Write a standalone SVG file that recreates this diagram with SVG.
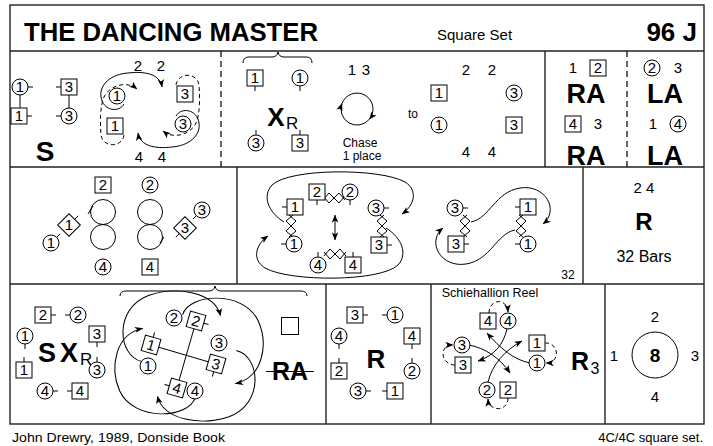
<svg xmlns="http://www.w3.org/2000/svg" width="713" height="446" viewBox="0 0 713 446">
<style>
text{font-family:"Liberation Sans",Arial,Helvetica,sans-serif;fill:#000}
.n{font-size:15px;text-anchor:middle}
.m{text-anchor:middle}
.c{fill:#fff;stroke:#000;stroke-width:1}
.bx{fill:#fff;stroke:#000;stroke-width:1}
.l{fill:none;stroke:#000;stroke-width:1}
.d{fill:none;stroke:#000;stroke-width:1;stroke-dasharray:4 3}
.a{marker-end:url(#ah)}
.a2{marker-end:url(#ah);marker-start:url(#ah)}
.bd{font-weight:bold;text-anchor:middle}
.fr{fill:none;stroke:#222;stroke-width:1.4}
.fd{fill:none;stroke:#222;stroke-width:1.4;stroke-dasharray:6 4}
</style>
<defs>
<marker id="ah" viewBox="0 0 10 8" refX="9.5" refY="4" markerWidth="8" markerHeight="6.4" orient="auto-start-reverse" markerUnits="userSpaceOnUse"><path d="M0,0 L10,4 L0,8 L2.5,4 z" fill="#000"/></marker>
<path id="zz" class="l" d="M-2,-11 L5,-5 L-5,5 L2,11 M2,-11 L-5,-5 L5,5 L-2,11"/>
<path id="arcQ" class="l a" d="M6,45 C0,68 -52,72 -66,38 C-76,12 -70,-24 -44,-30"/>
</defs>
<rect width="713" height="446" fill="#fff"/>

<g id="frame">
<rect class="fr" x="10" y="5" width="694" height="419"/>
<path class="fr" d="M10,51 H704 M10,167 H704 M10,284 H704"/>
<path class="fd" d="M221,51 V167 M627,51 V167"/>
<path class="fr" d="M545,51 V167 M237,167 V284 M583,167 V284 M326,284 V424 M431,284 V424 M605,284 V424"/>
</g>

<g id="title">
<text x="24" y="41" font-size="26" font-weight="bold" textLength="294" lengthAdjust="spacingAndGlyphs">THE DANCING MASTER</text>
<text x="437" y="40" font-size="15">Square Set</text>
<text x="697" y="41" font-size="26" font-weight="bold" text-anchor="end">96 J</text>
</g>

<g id="connectors">
<path class="l" d="M28,87 H33 M56,87 H61 M27,116 H32 M56,116 H61 M20,95 V108 M69,95 V108"/>
<path class="l" d="M255,86 V91 M300,86 V91 M256,130 V135 M300,130 V135"/>
<path class="l a" d="M124,104 C119,113 103,111 101,97 C99,84 112,74 128,73 C145,71 160,74 162,87"/>
<path class="d a" d="M124,135 C122,148 103,148 101,135 C100,122 100,106 104,97 C109,86 126,80 137,89"/>
<g transform="rotate(180 150 110)">
<path class="l a" d="M124,104 C119,113 103,111 101,97 C99,84 112,74 128,73 C145,71 160,74 162,87"/>
<path class="d a" d="M124,135 C122,148 103,148 101,135 C100,122 100,106 104,97 C109,86 126,80 137,89"/>
</g>
<path class="l" d="M243,63 Q243,57 249,57 L272,57 Q277,57 278,52 Q279,57 284,57 L306,57 Q312,57 312,63"/>
<path class="l a" d="M369.3,119.3 A16,16 0 0 1 342,103.5"/>
<path class="l a" d="M342,103.5 A16,16 0 1 1 369.3,119.3"/>
<circle class="l" cx="103" cy="212" r="12.5"/><circle class="l" cx="103" cy="237" r="12.5"/>
<circle class="l" cx="150" cy="212" r="12.5"/><circle class="l" cx="150" cy="237" r="12.5"/>
<path class="l" d="M93,206 L88,214 M160,243 L164,237"/>
<path class="l" d="M74.7,219.3 L78.2,215.8 M56.7,237.3 L60.2,233.8 M179.3,233.7 L175.8,237.2 M196.3,215.7 L192.8,219.2"/>
<path class="l" d="M317,200 V205 M350,200 V205 M282,207 H287 M281,244 H286 M384,208 H389 M387,245 H392 M318,252 V257 M353,252 V257"/>
<use href="#zz" transform="translate(334,198) rotate(90)"/>
<use href="#zz" transform="translate(291,226)"/>
<use href="#zz" transform="translate(382,226)"/>
<use href="#zz" transform="translate(335,254) rotate(90)"/>
<path class="l a" d="M284,222 C268,212 262,196 272,185 C290,168 380,168 405,182 C418,190 415,205 402,214"/>
<path class="l a" d="M284,222 C268,212 262,196 272,185 C290,168 380,168 405,182 C418,190 415,205 402,214" transform="rotate(180 335 225)"/>
<path class="l a2" d="M335,215 V240"/>
<path class="l" d="M463,208 H468 M464,244 H469 M515,207 H520 M515,244 H520"/>
<use href="#zz" transform="translate(465,226)"/>
<use href="#zz" transform="translate(521,226)"/>
<path class="l a" d="M471,222 C490,218 495,192 520,188 C545,184 560,210 543,224"/>
<path class="l a" d="M471,222 C490,218 495,192 520,188 C545,184 560,210 543,224" transform="rotate(180 493 226)"/>
<path class="l" d="M51,315 H56 M65,315 H70 M25,344 V349 M24,357 V362 M97,342 V347 M97,357 V362 M53,391 H58 M67,391 H72"/>
<path class="l" d="M120,296 Q120,291 126,291 L209,291 Q214,291 215,286 Q216,291 221,291 L301,291 Q307,291 307,296"/>
<path class="l" d="M158.7,347.2 L208.3,361.8 M194,328.5 L179,380.5"/>
<g transform="translate(189,356) scale(1.05,0.92)">
<use href="#arcQ"/>
<use href="#arcQ" transform="rotate(90)"/>
<use href="#arcQ" transform="rotate(180)"/>
<use href="#arcQ" transform="rotate(270)"/>
</g>
<path class="l" d="M363,315 H368 M382,315 H387 M339,344 V349 M339,358 V363 M412,344 V349 M412,358 V363 M366,391 H371 M382,391 H387"/>
<path class="d a" d="M489,313 C489,299 507,297 508,312"/>
<path class="d a" d="M545,343 C559,342 561,363 546,363"/>
<path class="d a" d="M508,398 C508,412 489,412 488,399"/>
<path class="d a" d="M455,365 C441,365 438,345 453,345"/>
<path class="l a" d="M507,329 C503,345 495,355 478,361"/>
<path class="l a" d="M469,345 C485,348 500,358 510,373"/>
<path class="l a" d="M530,363 C514,360 500,348 487,333"/>
<path class="l a" d="M488,382 C492,365 505,350 522,341"/>
</g>

<!-- ROW 1 LEFT -->
<g id="r1-c1"><circle class="c" cx="20" cy="87" r="8"/><text class="n" x="20" y="92.4">1</text></g>
<g id="r1-b3"><rect class="bx" x="61" y="79" width="16" height="16"/><text class="n" x="69" y="92.4">3</text></g>
<g id="r1-b1"><rect class="bx" x="11" y="108" width="16" height="16"/><text class="n" x="19" y="121.4">1</text></g>
<g id="r1-c3"><circle class="c" cx="69" cy="116" r="8"/><text class="n" x="69" y="121.4">3</text></g>
<text id="r1-S" class="bd" x="45" y="161" font-size="28">S</text>
<g id="r1s-c1"><circle class="c" cx="117" cy="96" r="8"/><text class="n" x="117" y="101.4">1</text></g>
<g id="r1s-b1"><rect class="bx" x="107" y="118" width="16" height="16"/><text class="n" x="115" y="131.4">1</text></g>
<g id="r1s-b3"><rect class="bx" x="177" y="86" width="16" height="16"/><text class="n" x="185" y="99.4">3</text></g>
<g id="r1s-c3"><circle class="c" cx="183" cy="124" r="8"/><text class="n" x="183" y="129.4">3</text></g>
<g id="r1s-nums" font-size="15"><text class="m" x="138" y="71">2</text><text class="m" x="161" y="71">2</text><text class="m" x="139" y="162">4</text><text class="m" x="162" y="162">4</text></g>

<!-- ROW 1 MIDDLE -->
<g id="r1m-b1"><rect class="bx" x="247" y="70" width="16" height="16"/><text class="n" x="255" y="83.4">1</text></g>
<g id="r1m-c1"><circle class="c" cx="300" cy="78" r="8"/><text class="n" x="300" y="83.4">1</text></g>
<g id="r1m-c3"><circle class="c" cx="256" cy="143" r="8"/><text class="n" x="256" y="148.4">3</text></g>
<g id="r1m-b3"><rect class="bx" x="292" y="135" width="16" height="16"/><text class="n" x="300" y="148.4">3</text></g>
<g id="r1m-XR"><text class="bd" x="276" y="126" font-size="26">X</text><text x="286" y="129" font-size="17">R</text></g>
<g id="r1m-13" font-size="15"><text class="m" x="352" y="75">1</text><text class="m" x="366" y="75">3</text></g>
<g id="r1m-chase"><text class="m" x="360" y="147" font-size="12">Chase</text><text class="m" x="362" y="160" font-size="12">1 place</text></g>
<text id="r1m-to" class="m" x="413" y="118" font-size="12">to</text>
<g id="r1m-nums" font-size="15"><text class="m" x="466" y="75">2</text><text class="m" x="492" y="75">2</text><text class="m" x="466" y="157">4</text><text class="m" x="492" y="157">4</text></g>
<g id="r1m-b1b"><rect class="bx" x="431" y="85" width="16" height="16"/><text class="n" x="439" y="98.4">1</text></g>
<g id="r1m-c3b"><circle class="c" cx="514" cy="93" r="8"/><text class="n" x="514" y="98.4">3</text></g>
<g id="r1m-c1b"><circle class="c" cx="439" cy="125" r="8"/><text class="n" x="439" y="130.4">1</text></g>
<g id="r1m-b3b"><rect class="bx" x="506" y="117" width="16" height="16"/><text class="n" x="514" y="130.4">3</text></g>

<!-- ROW 1 RIGHT -->
<text class="m" x="573" y="73" font-size="15">1</text>
<g id="r1r-b2"><rect class="bx" x="590" y="60" width="16" height="16"/><text class="n" x="598" y="73.4">2</text></g>
<text class="bd" x="586" y="103" font-size="27">RA</text>
<g id="r1r-b4"><rect class="bx" x="565" y="116" width="16" height="16"/><text class="n" x="573" y="129.4">4</text></g>
<text class="m" x="598" y="129" font-size="15">3</text>
<text class="bd" x="586" y="165" font-size="27">RA</text>
<g id="r1r-c2"><circle class="c" cx="652" cy="68" r="8"/><text class="n" x="652" y="73.4">2</text></g>
<text class="m" x="678" y="73" font-size="15">3</text>
<text class="bd" x="665" y="103" font-size="27">LA</text>
<text class="m" x="653" y="129" font-size="15">1</text>
<g id="r1r-c4"><circle class="c" cx="678" cy="124" r="8"/><text class="n" x="678" y="129.4">4</text></g>
<text class="bd" x="665" y="165" font-size="27">LA</text>

<!-- ROW 2 LEFT -->
<g id="r2-b2"><rect class="bx" x="95" y="177" width="16" height="16"/><text class="n" x="103" y="190.4">2</text></g>
<g id="r2-c2"><circle class="c" cx="150" cy="185" r="8"/><text class="n" x="150" y="190.4">2</text></g>
<g id="r2-d1"><rect class="bx" x="-8" y="-8" width="16" height="16" transform="translate(69,225) rotate(45)"/><text class="n" x="69" y="230.4">1</text></g>
<g id="r2-c1"><circle class="c" cx="51" cy="243" r="8"/><text class="n" x="51" y="248.4">1</text></g>
<g id="r2-d3"><rect class="bx" x="-8" y="-8" width="16" height="16" transform="translate(185,228) rotate(45)"/><text class="n" x="185" y="233.4">3</text></g>
<g id="r2-c3"><circle class="c" cx="202" cy="210" r="8"/><text class="n" x="202" y="215.4">3</text></g>
<g id="r2-c4"><circle class="c" cx="103" cy="267" r="8"/><text class="n" x="103" y="272.4">4</text></g>
<g id="r2-b4"><rect class="bx" x="142" y="259" width="16" height="16"/><text class="n" x="150" y="272.4">4</text></g>

<!-- ROW 2 MIDDLE -->
<g id="r2m-b2"><rect class="bx" x="309" y="184" width="16" height="16"/><text class="n" x="317" y="197.4">2</text></g>
<g id="r2m-c2"><circle class="c" cx="350" cy="192" r="8"/><text class="n" x="350" y="197.4">2</text></g>
<g id="r2m-b1"><rect class="bx" x="287" y="199" width="16" height="16"/><text class="n" x="295" y="212.4">1</text></g>
<g id="r2m-c1"><circle class="c" cx="294" cy="244" r="8"/><text class="n" x="294" y="249.4">1</text></g>
<g id="r2m-c3"><circle class="c" cx="376" cy="208" r="8"/><text class="n" x="376" y="213.4">3</text></g>
<g id="r2m-b3"><rect class="bx" x="371" y="237" width="16" height="16"/><text class="n" x="379" y="250.4">3</text></g>
<g id="r2m-c4"><circle class="c" cx="318" cy="265" r="8"/><text class="n" x="318" y="270.4">4</text></g>
<g id="r2m-b4"><rect class="bx" x="345" y="257" width="16" height="16"/><text class="n" x="353" y="270.4">4</text></g>
<g id="r2m-c3b"><circle class="c" cx="455" cy="208" r="8"/><text class="n" x="455" y="213.4">3</text></g>
<g id="r2m-b3b"><rect class="bx" x="448" y="236" width="16" height="16"/><text class="n" x="456" y="249.4">3</text></g>
<g id="r2m-b1b"><rect class="bx" x="520" y="199" width="16" height="16"/><text class="n" x="528" y="212.4">1</text></g>
<g id="r2m-c1b"><circle class="c" cx="528" cy="244" r="8"/><text class="n" x="528" y="249.4">1</text></g>
<text class="m" x="568" y="279" font-size="12">32</text>

<!-- ROW 2 RIGHT -->
<g id="r2r">
<text class="m" x="644" y="193" font-size="15">2 4</text>
<text class="bd" x="644" y="230" font-size="24">R</text>
<text class="m" x="644" y="262" font-size="16">32 Bars</text>
</g>

<!-- ROW 3 LEFT -->
<g id="r3-b2"><rect class="bx" x="35" y="307" width="16" height="16"/><text class="n" x="43" y="320.4">2</text></g>
<g id="r3-c2"><circle class="c" cx="78" cy="315" r="8"/><text class="n" x="78" y="320.4">2</text></g>
<g id="r3-c1"><circle class="c" cx="25" cy="336" r="8"/><text class="n" x="25" y="341.4">1</text></g>
<g id="r3-b1"><rect class="bx" x="16" y="362" width="16" height="16"/><text class="n" x="24" y="375.4">1</text></g>
<g id="r3-b3"><rect class="bx" x="89" y="326" width="16" height="16"/><text class="n" x="97" y="339.4">3</text></g>
<g id="r3-c3"><circle class="c" cx="97" cy="370" r="8"/><text class="n" x="97" y="375.4">3</text></g>
<g id="r3-c4"><circle class="c" cx="45" cy="391" r="8"/><text class="n" x="45" y="396.4">4</text></g>
<g id="r3-b4"><rect class="bx" x="72" y="383" width="16" height="16"/><text class="n" x="80" y="396.4">4</text></g>
<g id="r3-SXR"><text class="bd" x="47" y="362" font-size="27">S</text><text class="bd" x="69" y="362" font-size="27">X</text><text x="80" y="365" font-size="17">R</text></g>

<g id="r3f-b1"><g transform="translate(151,345) rotate(16)"><rect class="bx" x="-8" y="-8" width="16" height="16"/><path class="l" d="M0,-8 V-13"/><text class="n" x="0" y="5.4">1</text></g></g>
<g id="r3f-b2"><g transform="translate(196,321) rotate(16)"><rect class="bx" x="-8" y="-8" width="16" height="16"/><path class="l" d="M8,0 H13"/><text class="n" x="0" y="5.4">2</text></g></g>
<g id="r3f-b3"><g transform="translate(216,364) rotate(16)"><rect class="bx" x="-8" y="-8" width="16" height="16"/><path class="l" d="M0,8 V13"/><text class="n" x="0" y="5.4">3</text></g></g>
<g id="r3f-b4"><g transform="translate(177,388) rotate(16)"><rect class="bx" x="-8" y="-8" width="16" height="16"/><path class="l" d="M-8,0 H-13"/><text class="n" x="0" y="5.4">4</text></g></g>
<g id="r3f-c1"><circle class="c" cx="148" cy="366" r="8"/><text class="n" x="148" y="371.4">1</text></g>
<g id="r3f-c2"><circle class="c" cx="174" cy="318" r="8"/><text class="n" x="174" y="323.4">2</text></g>
<g id="r3f-c3"><circle class="c" cx="219" cy="343" r="8"/><text class="n" x="219" y="348.4">3</text></g>
<g id="r3f-c4"><circle class="c" cx="195" cy="391" r="8"/><text class="n" x="195" y="396.4">4</text></g>
<g id="r3-box"><rect class="bx" x="281.5" y="317.5" width="17" height="17"/></g>
<g id="r3-RA"><text class="bd" x="290" y="380" font-size="25">RA</text><path class="l" d="M266,371.5 H314" stroke-width="1.3"/></g>

<!-- ROW 3 R PANEL -->
<g id="r3r-b3"><rect class="bx" x="347" y="307" width="16" height="16"/><text class="n" x="355" y="320.4">3</text></g>
<g id="r3r-c1"><circle class="c" cx="395" cy="315" r="8"/><text class="n" x="395" y="320.4">1</text></g>
<g id="r3r-c4"><circle class="c" cx="339" cy="336" r="8"/><text class="n" x="339" y="341.4">4</text></g>
<g id="r3r-b2"><rect class="bx" x="331" y="363" width="16" height="16"/><text class="n" x="339" y="376.4">2</text></g>
<g id="r3r-b4"><rect class="bx" x="404" y="328" width="16" height="16"/><text class="n" x="412" y="341.4">4</text></g>
<g id="r3r-c2"><circle class="c" cx="412" cy="371" r="8"/><text class="n" x="412" y="376.4">2</text></g>
<g id="r3r-c3"><circle class="c" cx="358" cy="391" r="8"/><text class="n" x="358" y="396.4">3</text></g>
<g id="r3r-b1"><rect class="bx" x="387" y="383" width="16" height="16"/><text class="n" x="395" y="396.4">1</text></g>
<text class="bd" x="376" y="368" font-size="26">R</text>

<!-- ROW 3 SCHIEHALLION -->
<text class="m" x="490" y="297" font-size="12.5">Schiehallion Reel</text>
<g id="sr-b4"><rect class="bx" x="480" y="313" width="16" height="16"/><text class="n" x="488" y="326.4">4</text></g>
<g id="sr-c4"><circle class="c" cx="508" cy="321" r="8"/><text class="n" x="508" y="326.4">4</text></g>
<g id="sr-b1"><rect class="bx" x="529" y="335" width="16" height="16"/><text class="n" x="537" y="348.4">1</text></g>
<g id="sr-c1"><circle class="c" cx="537" cy="363" r="8"/><text class="n" x="537" y="368.4">1</text></g>
<g id="sr-c3"><circle class="c" cx="462" cy="345" r="8"/><text class="n" x="462" y="350.4">3</text></g>
<g id="sr-b3"><rect class="bx" x="455" y="357" width="16" height="16"/><text class="n" x="463" y="370.4">3</text></g>
<g id="sr-c2"><circle class="c" cx="487" cy="390" r="8"/><text class="n" x="487" y="395.4">2</text></g>
<g id="sr-b2"><rect class="bx" x="500" y="382" width="16" height="16"/><text class="n" x="508" y="395.4">2</text></g>
<g id="sr-R3"><text class="bd" x="580" y="370" font-size="25">R</text><text x="590.5" y="374" font-size="16">3</text></g>

<!-- ROW 3 RIGHT -->
<g id="r3-8">
<circle class="l" cx="655" cy="355" r="23"/>
<text class="bd" x="655" y="362" font-size="19">8</text>
<text class="m" x="655" y="322" font-size="15">2</text>
<text class="m" x="614" y="361" font-size="15">1</text>
<text class="m" x="695" y="361" font-size="15">3</text>
<text class="m" x="655" y="402" font-size="15">4</text>
</g>

<!-- FOOTER -->
<text x="12" y="442" font-size="13" textLength="213" lengthAdjust="spacingAndGlyphs">John Drewry, 1989, Donside Book</text>
<text x="703" y="442" font-size="13" text-anchor="end">4C/4C  square set.</text>
</svg>
